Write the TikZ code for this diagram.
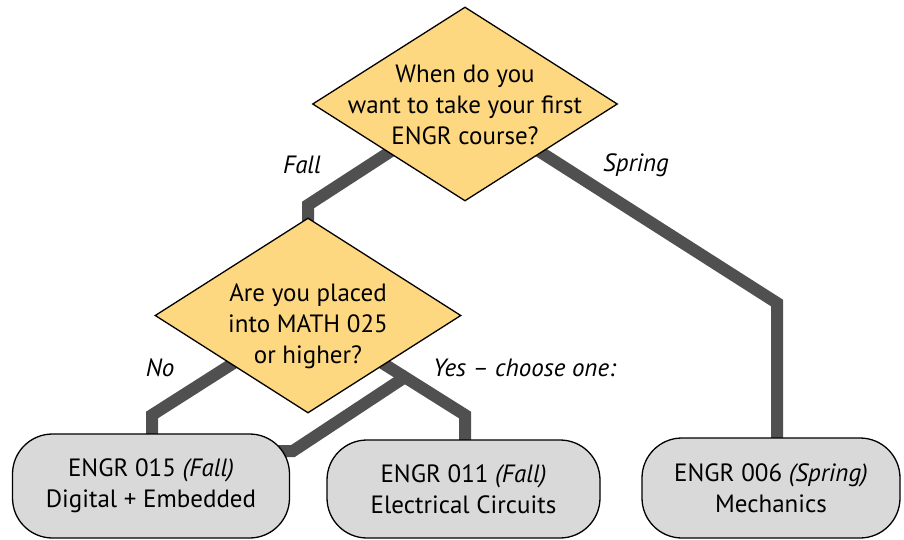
\documentclass[tikz,border=0pt]{standalone}
\usepackage{fontspec}
\setmainfont{PT Sans}
\usetikzlibrary{shapes.geometric,calc,backgrounds}
\definecolor{qfill}{HTML}{FDD880}
\definecolor{bfill}{HTML}{D9D9D9}
\definecolor{lcol}{HTML}{505050}
\begin{document}
\begin{tikzpicture}[x=1pt,y=-1pt,
  qdiam/.style={diamond, draw=black, line width=1.3pt, fill=qfill, inner sep=0pt},
  qtext/.style={align=center, font=\fontsize{25}{31}\selectfont, inner sep=0pt},
  cbox/.style={draw=black, line width=1.3pt, fill=bfill, rounded corners=40pt,
    align=center, font=\fontsize{25}{31}\selectfont, inner sep=0pt},
  conn/.style={draw=lcol, line width=12pt, line join=miter},
  lab/.style={font=\fontsize{25}{28}\selectfont\itshape, inner sep=0pt}]
\useasboundingbox (0,0) rectangle (904,540);
% decisions
\node[qdiam, minimum width=305pt, minimum height=194pt] (d1) at (465,104) {};
\node[qtext] (t1) at (465,105) {When do you\\want to take your first\\ENGR course?};
\node[qdiam, minimum width=306pt, minimum height=195pt] (d2) at (308,315.5) {};
\node[qtext] (t2) at (308,326) {Are you placed\\into MATH 025\\or higher?};
% course boxes
\node[cbox, minimum width=277pt, minimum height=104pt] (b1) at (151,486) {ENGR 015 \textit{(Fall)}\\Digital + Embedded};
\node[cbox, minimum width=273pt, minimum height=98pt] (b2) at (463.5,489) {ENGR 011 \textit{(Fall)}\\Electrical Circuits};
\node[cbox, minimum width=258pt, minimum height=100pt] (b3) at (771,488) {ENGR 006 \textit{(Spring)}\\Mechanics};
% labels
\node[lab] (lfall) at (302,165) {Fall};
\node[lab] (lspring) at (636,165) {Spring};
\node[lab] (lno) at (160,368) {No};
\node[lab, anchor=west] (lyes) at (433,368) {Yes -- choose one:};
% bend points
\coordinate (cfall) at (308,205);
\coordinate (cspring) at (777,303);
\coordinate (cno) at (152,415);
\coordinate (cyes) at (465,415);
\coordinate (cbr) at (293,451);
\coordinate (ebr) at (260,451);
\begin{scope}[on background layer]
  \draw[conn, shorten <=-8pt, shorten >=-8pt] (d1.south west) -- (cfall) -- (d2.north);
  \draw[conn, shorten <=-8pt, shorten >=-8pt] (d1.south east) -- (cspring) -- (cspring |- b3.north);
  \draw[conn, shorten <=-8pt, shorten >=-8pt] (d2.south west) -- (cno) -- (cno |- b1.north);
  \draw[conn, shorten <=-8pt, shorten >=-8pt] (d2.south east) -- (cyes) -- (cyes |- b2.north);
  \draw[conn, shorten <=-4pt] ($(d2.south east)!0.25!(cyes)$) -- (cbr) -- (ebr);
\end{scope}
\end{tikzpicture}
\end{document}
